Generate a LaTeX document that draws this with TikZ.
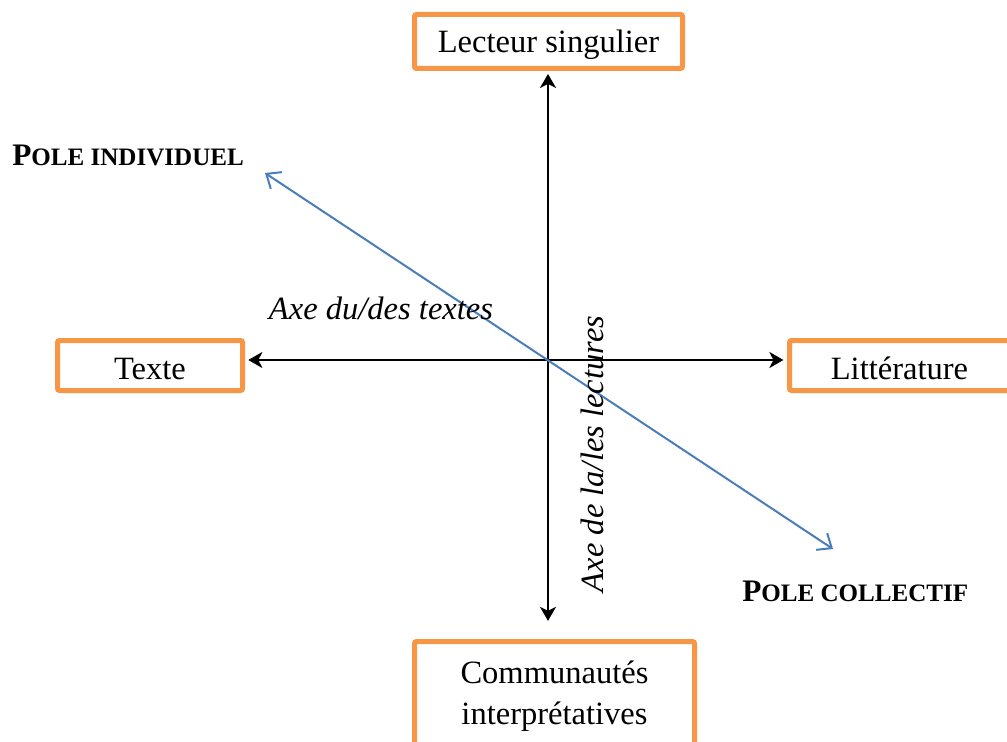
\documentclass[tikz,border=0pt]{standalone}
\usepackage{fontspec}
\setmainfont{Liberation Serif}
\usetikzlibrary{arrows.meta}
\definecolor{boxorange}{HTML}{F79646}
\definecolor{axisblue}{HTML}{4A7EBB}
\newcommand{\bodyfont}{\fontsize{24.4}{30.75}\selectfont}
\newcommand{\smallcapfont}{\fontsize{18.8}{22}\selectfont}
\newcommand{\polefont}{\fontsize{23.5}{28}\selectfont}
\begin{document}
\begin{tikzpicture}[x=0.75pt,y=-0.75pt,
  polebox/.style={draw=boxorange, line width=3.75pt, rounded corners=1.5pt, inner sep=0pt,
    align=center, font=\bodyfont},
  axisarrow/.style={draw=black, line width=1.6pt,
    {Stealth[length=10.5pt,width=12pt,inset=3pt]}-{Stealth[length=10.5pt,width=12pt,inset=3pt]}},
  diagarrow/.style={draw=axisblue, line width=1.5pt,
    {Straight Barb[length=9pt,width=15pt]}-{Straight Barb[length=9pt,width=15pt]}},
  axislabel/.style={font=\bodyfont\itshape, inner sep=0pt},
  polelabel/.style={font=\polefont\bfseries, inner sep=0pt, anchor=base west}
]
\useasboundingbox (0,0) rectangle (1007,742);

% boxes
\node[polebox, minimum width=201pt, minimum height=40.5pt, text height=17.25pt, text depth=0pt]
  (lecteur) at (548.5,41.5) {Lecteur singulier};
\node[polebox, minimum width=138.75pt, minimum height=37.5pt, text height=20.25pt, text depth=0pt]
  (texte) at (150,365.5) {Texte};
\node[polebox, minimum width=168pt, minimum height=37.5pt, text height=20.25pt, text depth=0pt]
  (litt) at (901.5,365.5) {\hspace*{-3pt}Littérature};
\node[polebox, minimum width=210pt, minimum height=82.5pt]
  (commu) at (554.5,696.5) {Communautés\\interprétatives};

% center of the axes
\coordinate (o) at (548,360);

% black axes
\draw[axisarrow, shorten <=2.2pt, shorten >=13.6pt] (o |- lecteur.south) -- (o |- commu.north);
\draw[axisarrow, shorten <=2.5pt, shorten >=2.7pt] (texte.east |- o) -- (litt.west |- o);

% blue diagonal
\coordinate (indiv) at (265,173);
\coordinate (collec) at (833,549);
\draw[diagarrow] (indiv) -- (collec);

% labels
\node[axislabel, anchor=base] (axetextes) at (381,319) {Axe du/des textes};
\node[axislabel, anchor=base, rotate=90] (axelectures) at (603,454) {Axe de la/les lectures};
\node[polelabel] (poleind) at (12,166) {P{\smallcapfont OLE INDIVIDUEL}};
\node[polelabel] (polecol) at (742,601) {P{\smallcapfont OLE COLLECTIF}};
\end{tikzpicture}
\end{document}
